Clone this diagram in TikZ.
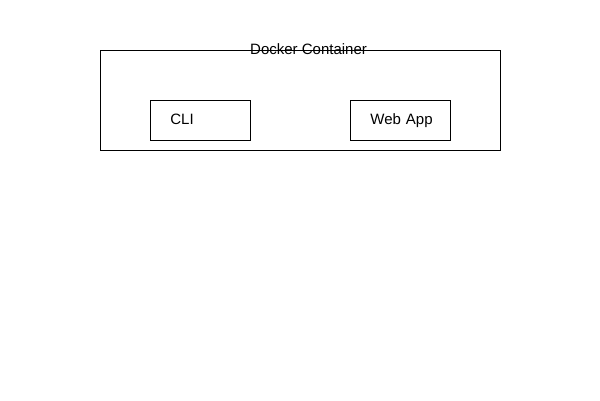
\documentclass[tikz,border=0pt]{standalone}
\usepackage{fontspec}
\setmainfont{Liberation Sans}
\usepackage{tikz}
\usetikzlibrary{positioning}

\tikzset{
  container/.style={draw, line width=0.8pt, minimum width=400pt, minimum height=100pt, anchor=north west, inner sep=0pt},
  appbox/.style={draw, line width=0.8pt, anchor=north west, text width=60pt, text height=10.5pt, text depth=3pt, inner xsep=20pt, inner ysep=13.25pt, align=left},
  title/.style={anchor=base west, inner sep=0pt}
}

\begin{document}
\begin{tikzpicture}[x=1pt, y=-1pt, font=\fontsize{15}{17}\selectfont]

  \useasboundingbox (0,0) rectangle (600,400);

  \node[container] (docker) at (100,50) {};
  \node[title] (dockerlabel) at (250,54) {Docker Container};

  \node[appbox] (cli) at (150,100) {CLI};
  \node[appbox] (webapp) at (350,100) {\mbox{Web App}};

\end{tikzpicture}
\end{document}
